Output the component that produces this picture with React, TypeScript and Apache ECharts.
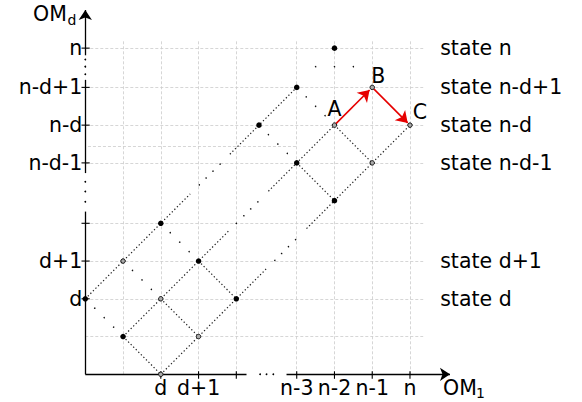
import React, { useEffect, useRef } from 'react';
import * as echarts from 'echarts';

const FONT = 'DejaVu Sans';

// Axis ticks and labels (grid units; gap between 4 and n-3 / n-d-1)
const xTickVals = [2, 3, 4, 5.6, 6.6, 7.6, 8.6];
const xLabelVals = [2, 3, 5.6, 6.6, 7.6, 8.6];
const xLabels = ['d', 'd+1', 'n-3', 'n-2', 'n-1', 'n'];
const yTickVals = [2, 3, 4, 5.6, 6.6, 7.6, 8.64];
const yLabelVals = [2, 3, 5.6, 6.6, 7.6, 8.64];
const yLabels = ['d', 'd+1', 'n-d-1', 'n-d', 'n-d+1', 'n'];

// Grid lines
const vGridX = [1, 2, 3, 4, 5.6, 6.6, 7.6, 8.6];
const hGridY = [1, 2, 3, 4, 5.6, 6.6, 7.6, 8.64];
const gridTop = 8.82;
const gridRight = 8.95;
const extraGridLine = [[0.07, 6.03], [5.6, 6.03]];

// Axis line pieces and ellipsis dots
const xAxisPieces = [[[0, 0], [4.27, 0]]];
const xAxisArrow = [[[5.33, 0], [9.66, 0]]];
const yAxisPieces = [[[0, 0], [0, 4.31]], [[0, 5.33], [0, 7.8]]];
const yAxisArrow = [[[0, 8.45], [0, 9.65]]];
const axisDots = [[4.63, 0], [4.8, 0], [4.98, 0], [0, 4.57], [0, 4.84], [0, 5.1], [0, 7.95], [0, 8.15], [0, 8.34]];

// Dense dotted transitions
const denseSegments = [
  [[0, 2], [2.78, 4.78]], [[3.83, 5.83], [5.6, 7.6]],
  [[1, 1], [3.8, 3.8]], [[4.85, 4.85], [6.6, 6.6]],
  [[2, 0], [4.8, 2.8]], [[5.86, 3.86], [8.6, 6.6]],
  [[1, 1], [2, 0]], [[2, 2], [3, 1]], [[3, 3], [4, 2]],
  [[5.6, 5.6], [6.6, 4.6]], [[6.6, 6.6], [7.6, 5.6]],
];

// Sparse "ellipsis" dots
const sparseDots = [
  [3.02, 5.02], [3.2, 5.2], [3.38, 5.38], [3.57, 5.57],
  [4.0, 4.0], [4.2, 4.2], [4.38, 4.38], [4.57, 4.57],
  [5.02, 3.02], [5.2, 3.2], [5.38, 3.38], [5.57, 3.57],
  [0.25, 1.75], [0.5, 1.5], [0.75, 1.25],
  [1.25, 2.75], [1.5, 2.5], [1.75, 2.25],
  [2.25, 3.75], [2.5, 3.5], [2.75, 3.25],
  [4.85, 6.35], [5.1, 6.1], [5.35, 5.85],
  [5.85, 7.35], [6.1, 7.1], [6.35, 6.85],
  [6.1, 8.15], [6.6, 8.15], [7.1, 8.15],
];

// States (lattice points)
const bigPoints = [[0, 2], [1, 1], [2, 4], [3, 3], [4, 2], [4.6, 6.6], [5.6, 7.6], [5.6, 5.6], [6.6, 4.6], [6.6, 8.64]];
const smallPoints = [[1, 3], [2, 2], [3, 1], [2, 0], [6.6, 6.6], [7.6, 7.6], [8.6, 6.6], [7.6, 5.6]];

// Red transitions A -> B -> C
const redArrows = [[[6.62, 6.62], [7.53, 7.53]], [[7.64, 7.56], [8.54, 6.66]]];
const namedPoints = [
  { name: 'A', value: [6.6, 6.6], offset: [0, -16] },
  { name: 'B', value: [7.6, 7.6], offset: [6, -11] },
  { name: 'C', value: [8.6, 6.6], offset: [10, -13] },
];

// Right-hand state captions
const stateX = 9.4;
const stateY = [8.64, 7.6, 6.6, 5.6, 3, 2];
const stateNames = ['state n', 'state n-d+1', 'state n-d', 'state n-d-1', 'state d+1', 'state d'];

function findLabel(vals: number[], labels: string[], v: number) {
  const i = vals.findIndex((t) => Math.abs(t - v) < 1e-6);
  return i >= 0 ? labels[i] : '';
}

export default function App() {
  const ref = useRef<HTMLDivElement>(null);
  useEffect(() => {
    if (!ref.current) return;
    const chart = echarts.init(ref.current, undefined, { renderer: 'svg' });
    const gridStyle = { color: '#cccccc', width: 0.8, type: [3, 2] as any, opacity: 1 };
    const textStyle = { color: '#000', fontSize: 20.5, fontFamily: FONT, opacity: 1 };
    const option: any = {
      animation: false,
      backgroundColor: '#ffffff',
      grid: { left: 85.3, right: 132, top: 10, bottom: 27.7 },
      xAxis: {
        type: 'value', min: 0, max: 9.66,
        axisLine: { show: false }, axisTick: { show: false }, splitLine: { show: false },
        axisLabel: {
          customValues: xLabelVals, margin: 3, color: '#000', fontSize: 20.5, fontFamily: FONT,
          formatter: (v: number) => findLabel(xLabelVals, xLabels, v),
        },
      },
      yAxis: {
        type: 'value', min: 0, max: 9.65,
        axisLine: { show: false }, axisTick: { show: false }, splitLine: { show: false },
        axisLabel: {
          customValues: yLabelVals, margin: 3, color: '#000', fontSize: 20.5, fontFamily: FONT,
          formatter: (v: number) => findLabel(yLabelVals, yLabels, v),
        },
      },
      graphic: [
        { type: 'text', x: 443, y: 388, style: { text: 'OM', font: `20.5px "${FONT}"`, fill: '#000', verticalAlign: 'middle', textVerticalAlign: 'middle' } },
        { type: 'text', x: 476, y: 393, style: { text: '1', font: `14px "${FONT}"`, fill: '#000', verticalAlign: 'middle', textVerticalAlign: 'middle' } },
        { type: 'text', x: 33, y: 13.7, style: { text: 'OM', font: `20.5px "${FONT}"`, fill: '#000', verticalAlign: 'middle', textVerticalAlign: 'middle' } },
        { type: 'text', x: 67.5, y: 20.2, style: { text: 'd', font: `14px "${FONT}"`, fill: '#000', verticalAlign: 'middle', textVerticalAlign: 'middle' } },
      ],
      series: [
        {
          type: 'lines', coordinateSystem: 'cartesian2d', clip: false, z: 1, silent: true,
          lineStyle: gridStyle,
          data: [
            ...vGridX.map((x) => ({ coords: [[x, 0], [x, gridTop]] })),
            ...hGridY.map((y) => ({ coords: [[0, y], [gridRight, y]] })),
            { coords: extraGridLine },
          ],
        },
        {
          type: 'lines', coordinateSystem: 'cartesian2d', clip: false, z: 3, silent: true,
          lineStyle: { color: '#000', width: 1.3, type: 'solid', opacity: 1 },
          data: [...xAxisPieces, ...yAxisPieces].map((c) => ({ coords: c })),
        },
        {
          type: 'lines', coordinateSystem: 'cartesian2d', clip: false, z: 3, silent: true,
          symbol: ['none', 'arrow'], symbolSize: [7, 10],
          lineStyle: { color: '#000', width: 1.3, type: 'solid', opacity: 1 },
          data: [...xAxisArrow, ...yAxisArrow].map((c) => ({ coords: c })),
        },
        {
          type: 'custom', coordinateSystem: 'cartesian2d', clip: false, z: 4, silent: true,
          data: xTickVals.map((v) => [v, 0]),
          renderItem: (_p: any, api: any) => {
            const p = api.coord([api.value(0), api.value(1)]);
            return { type: 'line', shape: { x1: p[0], y1: p[1] - 3, x2: p[0], y2: p[1] + 4.5 }, style: { stroke: '#000', lineWidth: 1.1 } };
          },
        },
        {
          type: 'custom', coordinateSystem: 'cartesian2d', clip: false, z: 4, silent: true,
          data: yTickVals.map((v) => [0, v]),
          renderItem: (_p: any, api: any) => {
            const p = api.coord([api.value(0), api.value(1)]);
            return { type: 'line', shape: { x1: p[0] - 3.8, y1: p[1], x2: p[0] + 4.4, y2: p[1] }, style: { stroke: '#000', lineWidth: 1.1 } };
          },
        },
        {
          type: 'scatter', clip: false, z: 4, silent: true,
          symbol: 'circle', symbolSize: 1.8, itemStyle: { color: '#000', opacity: 1 },
          data: axisDots,
        },
        {
          type: 'lines', coordinateSystem: 'cartesian2d', clip: false, z: 5, silent: true,
          lineStyle: { color: '#222', width: 1.2, type: [1.3, 2.3] as any, opacity: 1 },
          data: denseSegments.map((c) => ({ coords: c })),
        },
        {
          type: 'scatter', clip: false, z: 6, silent: true,
          symbol: 'circle', symbolSize: 1.5, itemStyle: { color: '#111', opacity: 1 },
          data: sparseDots,
        },
        {
          type: 'lines', coordinateSystem: 'cartesian2d', clip: false, z: 7, silent: true,
          symbol: ['none', 'arrow'], symbolSize: [8, 11],
          lineStyle: { color: '#e60000', width: 1.6, type: 'solid', opacity: 1 },
          itemStyle: { color: '#e60000' },
          data: redArrows.map((c) => ({ coords: c })),
        },
        {
          type: 'scatter', clip: false, z: 8, silent: true,
          symbol: 'circle', symbolSize: 5.5, itemStyle: { color: '#000', opacity: 1 },
          data: bigPoints,
        },
        {
          type: 'scatter', clip: false, z: 8, silent: true,
          symbol: 'circle', symbolSize: 4.5, itemStyle: { color: '#aaa', borderColor: '#111', borderWidth: 1, opacity: 1 },
          data: smallPoints,
        },
        {
          type: 'scatter', clip: false, z: 9, silent: true,
          symbolSize: 0, itemStyle: { opacity: 1 },
          data: namedPoints.map((p) => ({
            name: p.name, value: p.value,
            label: { show: true, formatter: p.name, position: 'inside', offset: p.offset, ...textStyle },
          })),
        },
        {
          type: 'scatter', clip: false, z: 9, silent: true,
          symbolSize: 0, itemStyle: { opacity: 1 },
          data: stateY.map((y, i) => ({
            name: stateNames[i], value: [stateX, y],
            label: { show: true, formatter: stateNames[i], position: 'right', distance: 0, ...textStyle },
          })),
        },
      ],
    };
    chart.setOption(option);
    return () => chart.dispose();
  }, []);
  return <div ref={ref} style={{ position: 'absolute', left: 0, top: 0, width: 582, height: 402 }} />;
}
